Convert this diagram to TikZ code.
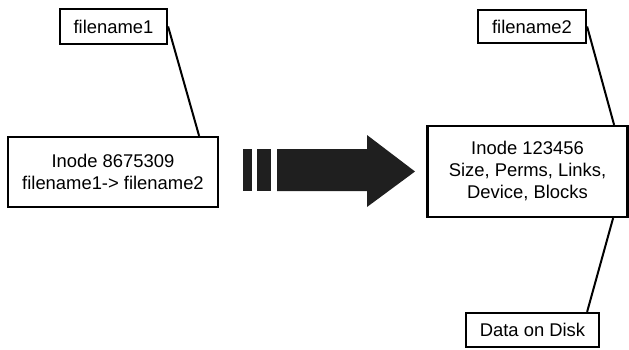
\documentclass[tikz,border=0pt]{standalone}
\usepackage{fontspec}
\setmainfont{Liberation Sans}
\begin{document}
\begin{tikzpicture}[x=1pt,y=-1pt,
    box/.style={draw, line width=2.2pt, inner sep=0pt, align=center,
        font=\fontsize{18.4}{22}\selectfont},
    link/.style={line width=2pt},
    bigarrow/.style={fill=black!88}]
            \useasboundingbox (0,0) rectangle (629,349);

            \node [box, minimum width=107, minimum height=35] (fn1) at (113.5,26.5) {filename1};
            \node [box, minimum width=210, minimum height=70] (ino1) at (113,172) {Inode 8675309\\filename1-> filename2};

            \node [box, minimum width=108, minimum height=33] (fn2) at (532,26.5) {filename2};
            \node [box, minimum width=200, minimum height=91] (ino2) at (527.5,171.5) {Inode 123456\\Size, Perms, Links,\\Device, Blocks};
            \node [box, minimum width=133, minimum height=34] (disk) at (532.5,330) {Data on Disk};

            \draw [link] (fn1.east) -- ([xshift=-20pt]ino1.north east);
            \draw [link] (fn2.east) -- ([xshift=-14.5pt]ino2.north east);
            \draw [link] ([xshift=-15.5pt]ino2.south east) -- ([xshift=-13pt]disk.north east);

            \fill [bigarrow] (243,149) rectangle (252,191);
            \fill [bigarrow] (257,149) rectangle (271,191);
            \fill [bigarrow] (277,149) -- (367,149) -- (367,135) -- (415,171.5) -- (367,207) -- (367,191) -- (277,191) -- cycle;
        \end{tikzpicture}
\end{document}
